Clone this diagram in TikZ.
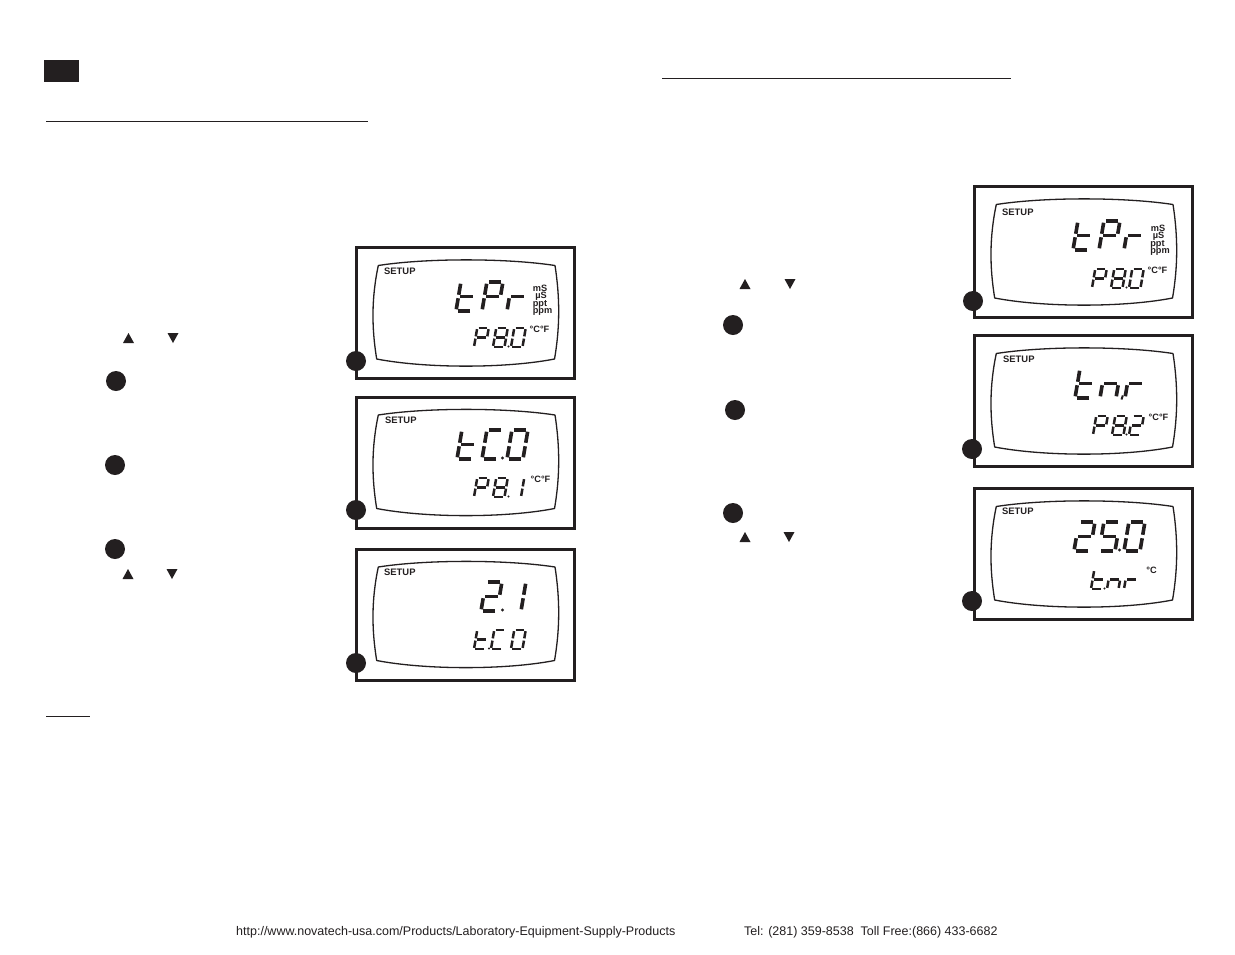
\documentclass[tikz,border=0pt]{standalone}
\usepackage{fontspec}
\setmainfont{Liberation Sans}
\definecolor{ink}{HTML}{231F20}
\tikzset{
  rule/.style={draw=ink,line width=1pt},
  lcdframe/.style={draw=ink,line width=3pt,fill=white},
  lcdglass/.style={draw=ink,line width=1.3pt,line join=round},
  bullet/.style={circle,fill=ink,minimum size=20pt,inner sep=0pt},
  setuplabel/.style={font=\bfseries\fontsize{9.4}{10}\selectfont,text=ink,inner sep=0pt,anchor=west},
  unitlabel/.style={font=\bfseries\fontsize{9.2}{10}\selectfont,text=ink,inner sep=0pt},
  footer/.style={font=\fontsize{12.5}{14}\selectfont,text=ink,inner sep=0pt,anchor=west},
  tri/.style={fill=ink,draw=none}
}
\newcommand{\sga}{\draw (.12,1)--(.88,1);}
\newcommand{\sgb}{\draw (1,.94)--(1,.56);}
\newcommand{\sgc}{\draw (1,.44)--(1,.06);}
\newcommand{\sgd}{\draw (.88,0)--(.12,0);}
\newcommand{\sge}{\draw (0,.06)--(0,.44);}
\newcommand{\sgf}{\draw (0,.56)--(0,.94);}
\newcommand{\sgg}{\draw (.12,.5)--(.88,.5);}
% x y w h thickness segments
\newcommand{\digd}[6]{\begin{scope}[shift={(#1,#2)},x={(#3pt,0pt)},y={(0.17*#4pt,#4pt)},line width=#5pt,draw=ink]
  \foreach \s in {#6}{\csname sg\s\endcsname}\end{scope}}
\newcommand{\bigd}[3]{\digd{#1}{#2}{16}{29}{3.6}{#3}}
\newcommand{\smd}[3]{\digd{#1}{#2}{11.5}{19}{2.5}{#3}}
\newcommand{\dotp}[3]{\fill[ink] (#1,#2) circle (#3pt);}
\begin{document}
\begin{tikzpicture}[x=1pt,y=-1pt]
\useasboundingbox[fill=white] (0,0) rectangle (1235,954);
\fill[ink] (44,60) rectangle (79,81.5);
\draw[rule] (46,121) -- (368,121);
\draw[rule] (662,78) -- (1011,78);
\draw[rule] (46,716) -- (90,716);

% frames
\foreach \nm/\xx/\yy/\bx/\by in {pa/356/247.5/356/361,pb/356/397/356/510,pc/356/549/356/663,pd/974/186.5/973/301,pe/974/335.5/972/449,pf/974/488.5/972/601}{
  \begin{scope}[shift={(\xx,\yy)}]
  \draw[lcdframe] (0,0) rectangle (218,131);
  \draw[lcdglass] (22.3,18) .. controls (70,10.5) and (150,10.5) .. (199,18)
     .. controls (204,50) and (204,80) .. (198.5,111.5)
     .. controls (150,121) and (70,121) .. (20.7,111.5)
     .. controls (15.5,80) and (15.5,50) .. cycle;
  \end{scope}
  \node[bullet] (b\nm) at (\bx,\by) {};
}

% SETUP labels
\foreach \nm/\xx/\yy in {sa/384/271.5,sb/385/420.5,sc/384/572,sd/1002/212,se/1003/359,sf/1002/511}
  \node[setuplabel] (\nm) at (\xx,\yy) {SETUP};

% Panel 1: tPr / P8.0
\bigd{456}{311}{f,e,g,d}
\bigd{482}{311}{a,b,f,e,g}
\bigd{507}{311}{e,g}
\smd{474}{347}{a,b,f,e,g}
\smd{493}{347}{a,b,c,d,e,f,g}
\dotp{508.5}{346.5}{1.2}
\smd{511}{347}{a,b,c,d,e,f}
\node[unitlabel] (ua1) at (540,288) {mS};
\node[unitlabel] (ua2) at (541,296.5) {µS};
\node[unitlabel] (ua3) at (540,304) {ppt};
\node[unitlabel] (ua4) at (542.5,312) {ppm};
\node[unitlabel] (ua5) at (539.5,329.5) {°C°F};

% Panel 2: tC.0 / P8.1
\bigd{457}{459}{f,e,g,d}
\bigd{482}{459}{a,f,e,d}
\dotp{502.5}{458}{1.6}
\bigd{507}{459}{a,b,c,d,e,f}
\smd{474}{497}{a,b,f,e,g}
\smd{493}{497}{a,b,c,d,e,f,g}
\dotp{508.5}{496.5}{1.2}
\smd{509.5}{497}{b,c}
\node[unitlabel] (ub5) at (540.5,479.5) {°C°F};

% Panel 3: 2.1 / t.C 0
\bigd{481}{611}{a,b,g,e,d}
\dotp{502.5}{610}{1.6}
\bigd{505}{611}{b,c}
\smd{474}{649}{f,e,g,d}
\dotp{489}{648.5}{1.2}
\smd{491}{649}{a,f,e,d}
\smd{511}{649}{a,b,c,d,e,f}

% Panel 4: tPr / P8.0
\bigd{1073}{250}{f,e,g,d}
\bigd{1099}{250}{a,b,f,e,g}
\bigd{1124}{250}{e,g}
\smd{1092}{288}{a,b,f,e,g}
\smd{1111}{288}{a,b,c,d,e,f,g}
\dotp{1126.5}{287.5}{1.2}
\smd{1129}{288}{a,b,c,d,e,f}
\node[unitlabel] (ud1) at (1158,228.5) {mS};
\node[unitlabel] (ud2) at (1158.5,236.5) {µS};
\node[unitlabel] (ud3) at (1157.5,244) {ppt};
\node[unitlabel] (ud4) at (1160,252) {ppm};
\node[unitlabel] (ud5) at (1157.5,270.5) {°C°F};

% Panel 5: tn,r / P8.2
\bigd{1075}{398}{f,e,g,d}
\bigd{1100}{398}{e,g,c}
\draw[ink,line width=2pt] (1122.8,395.5) -- (1121.5,399.5);
\bigd{1125}{398}{e,g}
\smd{1093}{435}{a,b,f,e,g}
\smd{1112}{435}{a,b,c,d,e,f,g}
\dotp{1126.5}{434.5}{1.2}
\smd{1129}{435}{a,b,g,e,d}
\node[unitlabel] (ue5) at (1158.5,417) {°C°F};

% Panel 6: 25.0 / t.nr
\bigd{1074}{551}{a,b,g,e,d}
\bigd{1099}{551}{a,f,g,c,d}
\dotp{1119.5}{550}{1.6}
\bigd{1124}{551}{a,b,c,d,e,f}
\smd{1091}{589}{f,e,g,d}
\dotp{1104.5}{588.5}{1.2}
\smd{1107}{589}{e,g,c}
\smd{1124}{589}{e,g}
\node[unitlabel] (uf5) at (1151.5,570) {°C};

% step bullets
\foreach \nm/\xx/\yy in {ca/116/381,cb/115/465,cc/115/549,cd/733/325,ce/735/410,cf/733/513}
  \node[bullet] (\nm) at (\xx,\yy) {};

% arrows
\foreach \xx/\yy in {128.5/338,128/574,745/284,745/537}
  \fill[tri] (\xx-5.5,\yy+5) -- (\xx+5.5,\yy+5) -- (\xx,\yy-5) -- cycle;
\foreach \xx/\yy in {173/338,172/574,790/284,789/537}
  \fill[tri] (\xx-5.5,\yy-5) -- (\xx+5.5,\yy-5) -- (\xx,\yy+5) -- cycle;

% footer
\node[footer] (urlnote) at (236,932) {http://www.novatech-usa.com/Products/Laboratory-Equipment-Supply-Products};
\node[footer] (telnote) at (744,932) {Tel: (281) 359-8538\ \ Toll Free:(866) 433-6682};
\end{tikzpicture}
\end{document}
